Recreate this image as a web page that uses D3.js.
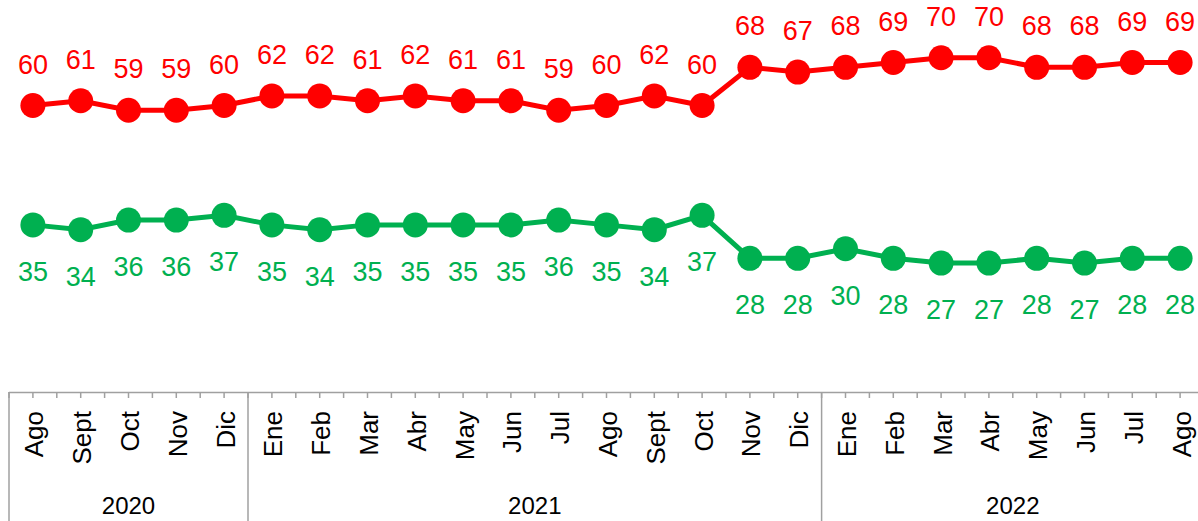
<!DOCTYPE html>
<html>
<head>
<meta charset="utf-8">
<script src="https://cdn.jsdelivr.net/npm/d3@7"></script>
<style>
  body { margin: 0; background: #fff; }
  svg { display: block; font-family: "Liberation Sans", Arial, sans-serif; }
</style>
</head>
<body>
<script>
// datos
const months = ["Ago","Sept","Oct","Nov","Dic","Ene","Feb","Mar","Abr","May","Jun","Jul","Ago","Sept","Oct","Nov","Dic","Ene","Feb","Mar","Abr","May","Jun","Jul","Ago"]
const yearLabels = ["2020","2021","2022"]
const yearSpans = [5, 12, 8]
const redValues = [60,61,59,59,60,62,62,61,62,61,61,59,60,62,60,68,67,68,69,70,70,68,68,69,69]
const greenValues = [35,34,36,36,37,35,34,35,35,35,35,36,35,34,37,28,28,30,28,27,27,28,27,28,28]

const WIDTH = 1198
const HEIGHT = 521
const RED = "#ff0000"
const GREEN = "#00b050"
const GRID = "#a0a0a0"

const svg = d3.select("body").append("svg")
  .attr("width", WIDTH).attr("height", HEIGHT)

const idx = d3.range(months.length)
const x = d3.scaleBand().domain(idx).range([9, 9 + 25 * 47.8]).padding(0)
const bw = x.bandwidth()
const cx = i => x(i) + bw / 2
const y = d3.scaleLinear().domain([0, 80]).range([392, 10])

// eje
const axisY = y(0)
svg.append("line")
  .attr("x1", x(0)).attr("x2", WIDTH)
  .attr("y1", axisY + 0.5).attr("y2", axisY + 0.5)
  .attr("stroke", GRID).attr("stroke-width", 1.5)

// marcas pequeñas (bordes y centros)
const tickPos = []
idx.forEach(i => { tickPos.push(x(i)); tickPos.push(cx(i)) })
svg.selectAll(".tick").data(tickPos).enter().append("line")
  .attr("x1", d => d).attr("x2", d => d)
  .attr("y1", axisY).attr("y2", axisY + 6)
  .attr("stroke", GRID).attr("stroke-width", 1.5)

// separadores de año
let acc = 0
const bounds = [0]
yearSpans.forEach(s => { acc += s; bounds.push(acc) })
bounds.slice(0, -1).forEach(b => {
  svg.append("line")
    .attr("x1", x(b)).attr("x2", x(b))
    .attr("y1", axisY).attr("y2", HEIGHT)
    .attr("stroke", GRID).attr("stroke-width", 1.5)
})

// meses
svg.selectAll(".month").data(months).enter().append("text")
  .attr("transform", (d, i) => "translate(" + (cx(i) + 10.5) + ",411) rotate(-90)")
  .attr("text-anchor", "end")
  .attr("font-size", 26)
  .attr("fill", "#000")
  .text(d => d)

// años
yearLabels.forEach((yl, k) => {
  const a = x(bounds[k])
  const b = x(bounds[k + 1] - 1) + bw
  svg.append("text")
    .attr("x", (a + b) / 2).attr("y", 514)
    .attr("text-anchor", "middle")
    .attr("font-size", 24)
    .attr("fill", "#000")
    .text(yl)
})

// series
function drawSeries(values, color, labelDy) {
  const line = d3.line().x((d, i) => cx(i)).y(d => y(d))
  svg.append("path").datum(values)
    .attr("d", line)
    .attr("fill", "none")
    .attr("stroke", color)
    .attr("stroke-width", 5)
  svg.append("g").selectAll("circle").data(values).enter().append("circle")
    .attr("cx", (d, i) => cx(i)).attr("cy", d => y(d))
    .attr("r", 12.5)
    .attr("fill", color)
  svg.append("g").selectAll("text").data(values).enter().append("text")
    .attr("x", (d, i) => cx(i)).attr("y", d => y(d) + labelDy)
    .attr("text-anchor", "middle")
    .attr("font-size", 27)
    .attr("fill", color)
    .text(d => d)
}
drawSeries(redValues, RED, -32)
drawSeries(greenValues, GREEN, 56)
</script>
</body>
</html>
